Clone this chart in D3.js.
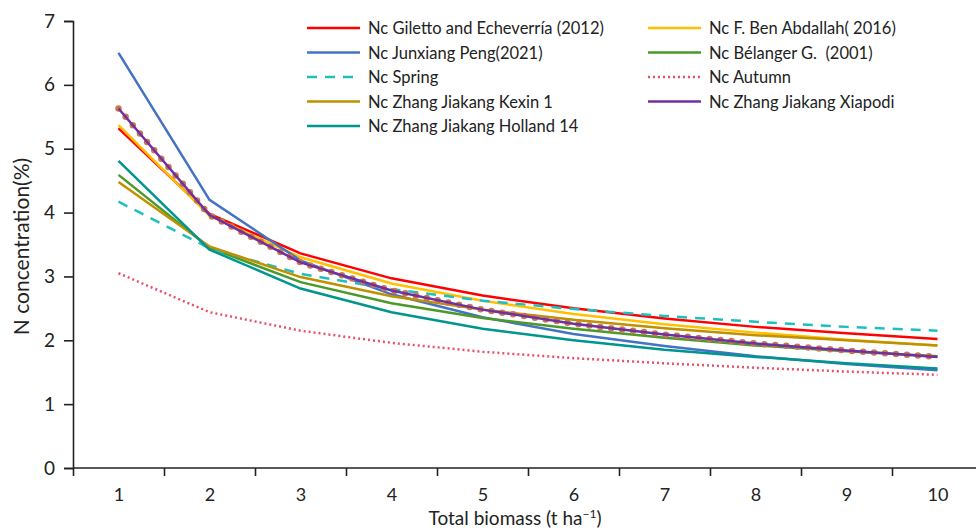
<!DOCTYPE html>
<html>
<head>
<meta charset="utf-8">
<script src="https://cdn.jsdelivr.net/npm/d3@7"></script>
<style>
  body { margin: 0; background: #fff; }
  text { font-family: Lato, "Open Sans", sans-serif; fill: #222; white-space: pre; }
</style>
</head>
<body>
<svg id="chart" width="976" height="531"></svg>
<script>
// biomass classes (t/ha)
var biomass = [1, 2, 3, 4, 5, 6, 7, 8, 9, 10];
var yTicks = [0, 1, 2, 3, 4, 5, 6, 7];

// Nc values
var giletto   = [5.32, 3.98, 3.36, 2.97, 2.70, 2.50, 2.34, 2.21, 2.11, 2.02];
var benAbd    = [5.37, 3.95, 3.30, 2.89, 2.62, 2.41, 2.25, 2.12, 2.01, 1.92];
var peng      = [6.50, 4.20, 3.25, 2.72, 2.36, 2.10, 1.91, 1.75, 1.63, 1.53];
var belanger  = [4.59, 3.45, 2.91, 2.58, 2.35, 2.18, 2.04, 1.92, 1.83, 1.75];
var spring    = [4.17, 3.44, 3.04, 2.80, 2.62, 2.49, 2.38, 2.29, 2.21, 2.15];
var autumn    = [3.05, 2.44, 2.15, 1.96, 1.82, 1.72, 1.64, 1.57, 1.51, 1.46];
var kexin     = [4.48, 3.47, 2.99, 2.69, 2.48, 2.32, 2.19, 2.08, 2.00, 1.92];
var xiapodi   = [5.63, 3.96, 3.22, 2.78, 2.48, 2.26, 2.09, 1.95, 1.84, 1.74];
var holland   = [4.81, 3.42, 2.81, 2.44, 2.18, 2.00, 1.85, 1.74, 1.64, 1.56];

var series = [
  {name: "Nc Giletto and Echeverría (2012)", v: giletto, c: "#ff0000"},
  {name: "Nc F. Ben Abdallah( 2016)", v: benAbd, c: "#ffc000"},
  {name: "Nc Junxiang Peng(2021)", v: peng, c: "#4472c4"},
  {name: "Nc Bélanger G.  (2001)", v: belanger, c: "#4a9a2a"},
  {name: "Nc Spring", v: spring, c: "#1fbfbf", dash: "10,8"},
  {name: "Nc Autumn", v: autumn, c: "#e8506a", dash: "2,3"},
  {name: "Nc Zhang Jiakang Kexin 1", v: kexin, c: "#bf9000"},
  {name: "Nc Zhang Jiakang Xiapodi", v: xiapodi, c: "#7030a0", dots: true},
  {name: "Nc Zhang Jiakang Holland 14", v: holland, c: "#00968f"}
];

var svg = d3.select("#chart"),
    margin = {top: 21, left: 73, bottom: 63},
    height = +svg.attr("height") - margin.top - margin.bottom,
    step = 91;

var x = d3.scaleLinear()
    .domain([0.5, 10.5])
    .range([margin.left, margin.left + step * 10]);

var y = d3.scaleLinear()
    .domain([0, 7])
    .range([margin.top + height, margin.top]);

// y axis
var gy = svg.append("g")
    .attr("transform", "translate(" + margin.left + ",0)")
    .call(d3.axisLeft(y).tickValues(yTicks).tickFormat(d3.format("d"))
      .tickSizeOuter(0).tickSize(9).tickPadding(9));
gy.selectAll("text").style("font-size", "19px");

// x axis: marks between classes, labels at centres
var gx = svg.append("g")
    .attr("transform", "translate(0," + y(0) + ")")
    .call(d3.axisBottom(x).tickValues(d3.range(0.5, 10, 1)).tickFormat("").tickSize(8).tickSizeOuter(0));
gx.select(".domain").attr("d", "M" + margin.left + ",0H976");

var gl = svg.append("g")
    .attr("transform", "translate(0," + y(0) + ")")
    .call(d3.axisBottom(x).tickValues(biomass).tickSize(0).tickPadding(20));
gl.select(".domain").remove();
gl.selectAll("text").style("font-size", "18px");

svg.selectAll(".domain, .tick line").attr("stroke", "#222").attr("stroke-width", 1.6);

// axis titles
svg.append("text")
    .attr("x", 515).attr("y", 525)
    .attr("text-anchor", "middle")
    .style("font-size", "19px")
    .html("Total biomass (t ha<tspan dy='-7' style='font-size:12px'>−1</tspan><tspan dy='7'>)</tspan>");

svg.append("text")
    .attr("transform", "translate(29," + (y(3.5) + 2) + ") rotate(-90)")
    .attr("text-anchor", "middle")
    .style("font-size", "21px")
    .text("N concentration(%)");

var line = d3.line()
    .x(function(d, i) { return x(biomass[i]); })
    .y(function(d) { return y(d); });

var lines = svg.append("g").attr("fill", "none");

series.forEach(function(s) {
  if (s.dots) {
    lines.append("path")
        .attr("d", line(s.v))
        .attr("stroke", "#c8784e")
        .attr("stroke-width", 6.5)
        .attr("stroke-linecap", "round")
        .attr("stroke-dasharray", "0,11");
  }
  lines.append("path")
      .attr("d", line(s.v))
      .attr("stroke", s.c)
      .attr("stroke-width", 2.5)
      .attr("stroke-dasharray", s.dash || null);
});

// legend, two columns
var legend = svg.append("g");
series.forEach(function(s, i) {
  var col = i % 2, row = Math.floor(i / 2);
  var lx = col === 0 ? 307 : 648,
      ly = 28 + row * 24.5;
  legend.append("line")
      .attr("x1", lx).attr("x2", lx + 53)
      .attr("y1", ly).attr("y2", ly)
      .attr("stroke", s.c)
      .attr("stroke-width", 2.5)
      .attr("stroke-dasharray", s.dash || null);
  legend.append("text")
      .attr("x", lx + 61).attr("y", ly + 6)
      .style("font-size", "16.5px")
      .text(s.name);
});
</script>
</body>
</html>
